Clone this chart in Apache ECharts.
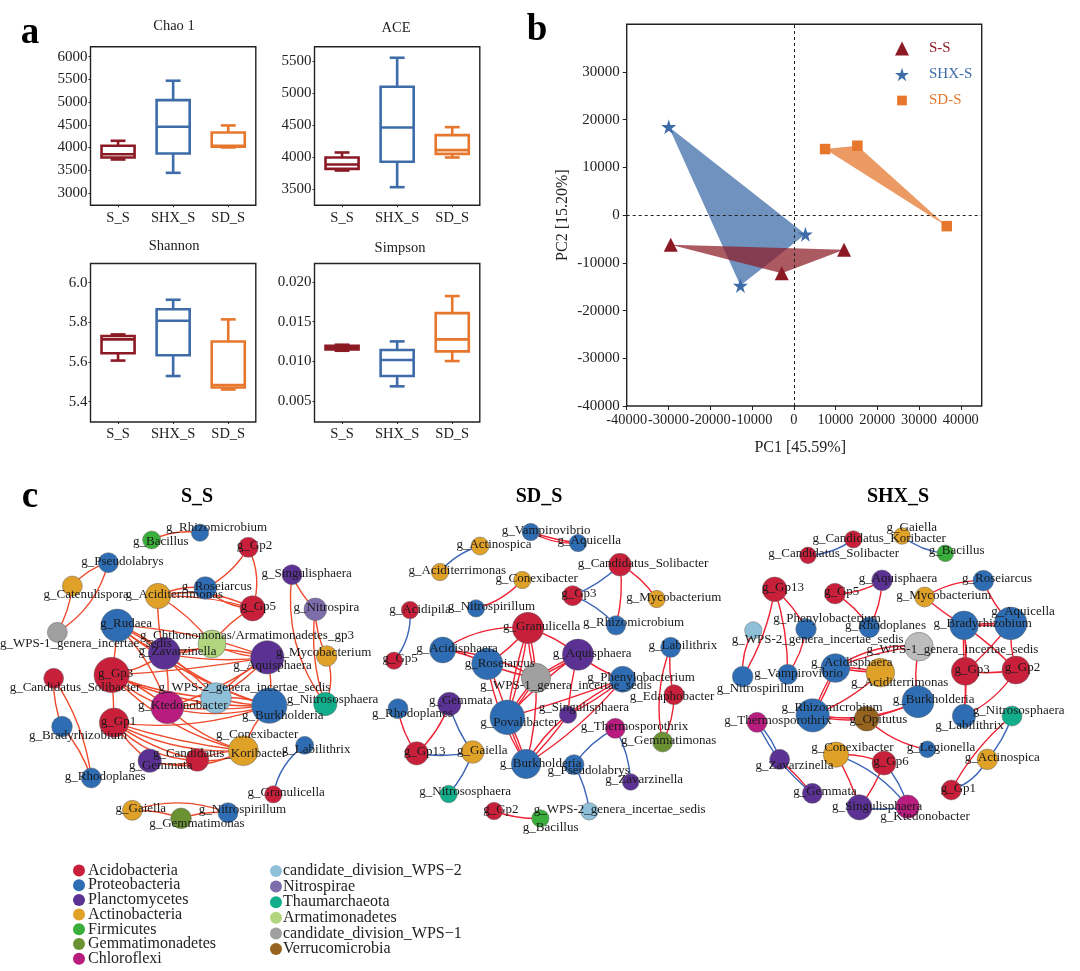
<!DOCTYPE html>
<html><head><meta charset="utf-8"><style>html,body{margin:0;padding:0;background:#fff}#c{width:1080px;height:971px}</style>
<script src="https://cdn.jsdelivr.net/npm/echarts@6/dist/echarts.min.js"></script></head><body><div id="c"></div>
<script>
const groups = ['S_S','SHX_S','SD_S'];
// [min, q1, median, q3, max] per group
const chaoBox = [[3735,3780,3850,4037,4147],[3441,3868,4456,5044,5470],[4000,4015,4037,4331,4485]];
const aceBox = [[3787,3813,3880,3991,4069],[3526,3923,4461,5098,5552],[3991,4048,4106,4341,4466]];
const shannonBox = [[5.607,5.644,5.714,5.731,5.739],[5.529,5.634,5.808,5.866,5.914],[5.461,5.471,5.484,5.703,5.815]];
const simpsonBox = [[0.01134,0.01151,0.01172,0.01197,0.0121],[0.00685,0.00815,0.01017,0.01143,0.01252],[0.01004,0.01126,0.01277,0.01609,0.01824]];
const pcoaS = [[-29450,-6220],[-2870,-12170],[12050,-7270]];
const pcoaSHX = [[-29930,18530],[-12770,-14755],[2790,-3990]];
const pcoaSD = [[7500,13850],[15240,14550],[36630,-2310]];
const phylaLeft = ['Acidobacteria','Proteobacteria','Planctomycetes','Actinobacteria','Firmicutes','Gemmatimonadetes','Chloroflexi'];
const phylaRight = ['candidate_division_WPS−2','Nitrospirae','Thaumarchaeota','Armatimonadetes','candidate_division_WPS−1','Verrucomicrobia'];
const A='Acidobacteria',P='Proteobacteria',L='Planctomycetes',C='Actinobacteria',F='Firmicutes',G='Gemmatimonadetes',H='Chloroflexi',W2='candidate_division_WPS−2',N='Nitrospirae',T='Thaumarchaeota',R='Armatimonadetes',W1='candidate_division_WPS−1',V='Verrucomicrobia';
// network nodes: [genus, phylum, x, y, weight, label start, label end, label y] in panel units
const ssNodes = [
['Rhizomicrobium',P,600,158,52,500,800,142],['Bacillus',F,455,180,54,400,565,186],['Gp2',A,745,202,60,712,815,198],['Pseudolabrys',P,325,248,60,245,490,244],
['Singulisphaera',L,876,284,60,785,1055,280],['Catenulispora',C,217,318,60,132,385,345],['Aciditerrimonas',C,474,348,76,378,668,345],['Roseiarcus',P,616,324,68,545,755,320],
['Gp5',A,758,385,76,722,828,380],['Nitrospira',N,946,388,68,880,1078,384],['WPS-1_genera_incertae_sedis',W1,172,457,60,0,515,490],['Rudaea',P,352,436,98,300,456,432],
['Chthonomonas/Armatimonadetes_gp3',R,636,492,84,420,1062,466],['Zavarzinella',L,493,520,96,415,650,516],['Aquisphaera',L,802,532,100,700,935,557],['Mycobacterium',C,980,528,62,830,1112,518],
['Gp3',A,335,585,106,296,398,582],['Candidatus_Solibacter',A,161,595,60,28,422,624],['WPS-2_genera_incertae_sedis',W2,648,654,92,475,992,622],['Ktedonobacter',H,502,682,98,415,682,676],
['Burkholderia',P,808,677,106,727,970,706],['Nitrososphaera',T,976,672,70,860,1135,660],['Gp1',A,342,728,88,303,408,726],['Bradyrhizobium',P,186,740,62,88,380,766],
['Conexibacter',C,730,812,90,648,895,765],['Candidatus_Koribacter',A,592,840,68,458,860,822],['Labilithrix',P,914,796,54,847,1050,810],['Gemmata',L,449,842,70,387,577,857],
['Rhodoplanes',P,274,894,60,195,436,890],['Granulicella',A,820,943,52,742,975,938],['Gaiella',C,397,991,60,348,497,986],['Nitrospirillum',P,684,998,60,597,858,990],['Gemmatimonas',G,543,1015,62,448,733,1032]];
const sdNodes = [
['Vampirovibrio',P,482,156,52,392,665,153],['Aquicella',P,624,189,52,562,754,182],['Actinospica',C,330,198,54,258,486,193],['Candidatus_Solibacter',A,750,254,68,620,1018,250],
['Aciditerrimonas',C,210,276,52,114,410,272],['Conexibacter',C,457,300,52,376,624,296],['Gp3',A,608,347,60,575,678,342],['Mycobacterium',C,860,357,52,768,1055,352],
['Acidipila',A,120,390,52,60,240,388],['Nitrospirillum',P,318,385,52,232,496,380],['Gp5',A,72,542,52,38,143,535],['Granulicella',A,474,444,94,398,632,440],
['Rhizomicrobium',P,738,436,58,638,944,428],['Acidisphaera',P,218,510,78,137,385,507],['Roseiarcus',P,352,552,94,283,495,552],['Aquisphaera',L,624,524,94,548,785,520],
['Labilithrix',P,902,502,60,835,1042,497],['WPS-1_genera_incertae_sedis',W1,498,594,88,328,848,618],['Phenylobacterium',P,758,598,78,650,976,593],['Edaphobacter',A,912,644,60,778,1034,650],
['Gemmata',L,238,672,70,176,368,662],['Rhodoplanes',P,84,686,60,5,250,702],['Povalibacter',P,412,712,104,330,566,728],['Singulisphaera',L,594,704,52,505,779,684],
['Thermosporothrix',H,736,745,60,632,955,739],['Gemmatimonas',G,878,786,60,752,1040,781],['Gp13',A,140,820,70,102,226,814],['Gaiella',C,308,816,68,262,412,812],
['Burkholderia',P,468,852,88,388,636,850],['Pseudolabrys',P,612,854,60,532,780,873],['Zavarzinella',L,782,906,50,705,940,900],['Nitrososphaera',T,236,942,52,147,424,936],
['Gp2',A,372,993,52,340,445,988],['WPS-2_genera_incertae_sedis',W2,658,994,52,488,1010,990],['Bacillus',F,511,1015,52,458,626,1042]];
const shxNodes = [
['Gaiella',C,546,168,50,498,653,144],['Candidatus_Koribacter',A,400,178,52,272,683,176],['Bacillus',F,676,220,50,625,795,212],['Candidatus_Solibacter',A,264,226,50,140,542,220],
['Aquisphaera',L,486,301,62,414,654,296],['Roseiarcus',P,790,302,62,724,938,297],['Gp13',A,164,328,74,128,250,322],['Gp5',A,345,341,62,313,417,336],
['Mycobacterium',C,614,351,60,526,817,346],['Aquicella',P,872,430,98,812,1006,394],['Phenylobacterium',P,258,447,62,157,486,415],['Rhodoplanes',P,448,442,62,373,620,438],
['Bradyrhizobium',P,732,436,86,638,938,432],['WPS-2_genera_incertae_sedis',W2,100,451,52,30,556,478],['WPS-1_genera_incertae_sedis','WPS1light',597,500,86,433,962,510],['Vampirovibrio',P,203,583,60,97,375,582],
['Acidisphaera',P,346,564,86,270,520,549],['Aciditerrimonas',C,481,578,86,390,688,608],['Gp3',A,736,574,84,703,810,568],['Gp2',A,888,570,84,855,960,564],
['Nitrospirillum',P,68,590,62,-10,252,626],['Burkholderia',P,594,665,96,516,766,659],['Rhizomicrobium',P,278,706,100,182,490,683],['Labilithrix',P,732,708,70,644,853,738],
['Nitrososphaera',T,876,708,60,755,1037,692],['Opitutus',V,440,716,74,388,562,719],['Thermosporothrix',H,111,727,60,10,338,722],['Conexibacter',C,348,824,76,272,522,802],
['Legionella',P,622,808,50,558,768,802],['Gp6',A,492,849,72,458,568,845],['Actinospica',C,802,838,62,732,962,834],['Zavarzinella',L,179,838,60,105,342,858],
['Gp1',A,694,930,60,663,767,926],['Gemmata',L,277,940,60,218,412,936],['Singulisphaera',L,418,982,76,333,610,979],['Ktedonobacter',H,563,980,70,478,752,1010]];
// network links: [source, target, bend], then correlation sign lists
const W1n='WPS-1_genera_incertae_sedis',W2n='WPS-2_genera_incertae_sedis',CH='Chthonomonas/Armatimonadetes_gp3';
const ssPositive = [
['Bacillus','Rhizomicrobium',.15],['Gp2','Roseiarcus',.15],['Gp2','Gp5',.2],['Pseudolabrys','Catenulispora',-.15],['Pseudolabrys',W1n,.2],['Catenulispora',W1n,.1],
['Singulisphaera','Nitrospira',-.1],['Singulisphaera','Nitrososphaera',-.2],['Nitrospira','Mycobacterium',-.12],['Nitrospira','Nitrososphaera',-.12],['Mycobacterium','Nitrososphaera',.2],
['Aciditerrimonas','Roseiarcus',.15],['Aciditerrimonas','Gp5',.18],['Aciditerrimonas','Gp5',.08],['Roseiarcus','Gp5',-.2],['Aciditerrimonas',CH,.1],['Aciditerrimonas','Zavarzinella',-.08],['Gp5',CH,-.12],
['Rudaea','Gp3',.03],['Rudaea','Zavarzinella',.12],['Rudaea','Zavarzinella',-.1],['Rudaea',W2n,.1],['Rudaea','Ktedonobacter',.12],['Rudaea','Burkholderia',-.1],['Rudaea','Aquisphaera',.08],
[CH,'Aquisphaera',-.12],[CH,'Zavarzinella',.12],['Zavarzinella','Aquisphaera',.12],['Zavarzinella','Aquisphaera',-.08],['Zavarzinella','Gp3',.12],['Zavarzinella',W2n,-.12],['Zavarzinella','Ktedonobacter',.08],['Zavarzinella','Burkholderia',-.1],
['Gp3','Gp1',.02],['Gp3',W2n,-.08],['Gp3','Ktedonobacter',.1],['Gp3','Ktedonobacter',-.1],['Gp3','Burkholderia',-.12],['Gp3','Conexibacter',-.15],['Gp3','Aquisphaera',-.03],
['Aquisphaera',W2n,.08],['Aquisphaera',W2n,-.08],['Aquisphaera','Ktedonobacter',.08],['Aquisphaera','Burkholderia',.1],[W2n,'Ktedonobacter',.08],[W2n,'Burkholderia',.12],[W2n,'Burkholderia',-.06],
['Ktedonobacter','Burkholderia',-.14],['Ktedonobacter','Burkholderia',-.05],['Ktedonobacter','Conexibacter',-.12],['Burkholderia','Conexibacter',-.12],
['Gp1','Conexibacter',-.05],['Gp1','Conexibacter',-.14],['Gp1','Candidatus_Koribacter',-.1],['Gp1','Candidatus_Koribacter',-.22],['Gp1','Gemmata',-.1],['Gp1','Burkholderia',-.12],
['Gemmata','Candidatus_Koribacter',-.18],['Gemmata','Conexibacter',-.2],['Candidatus_Koribacter','Conexibacter',.1],['Candidatus_Koribacter','Conexibacter',-.18],
['Candidatus_Solibacter','Bradyrhizobium',-.1],['Candidatus_Solibacter','Rhodoplanes',.12],['Bradyrhizobium','Rhodoplanes',.1],
['Gaiella','Nitrospirillum',.18],['Gaiella','Gemmatimonas',.1],['Gemmatimonas','Nitrospirillum',.1]];
const ssNegative = [['Labilithrix','Granulicella',-.2]];
const sdPositive = [
['Vampirovibrio','Aquicella',-.15],['Vampirovibrio','Aquicella',-.05],['Candidatus_Solibacter','Mycobacterium',.12],['Candidatus_Solibacter','Rhizomicrobium',.1],['Nitrospirillum','Conexibacter',-.15],
['Acidisphaera','Granulicella',.18],['Roseiarcus','Granulicella',-.08],['Granulicella',W1n,.05],['Granulicella',W1n,-.08],['Granulicella','Aquisphaera',.1],['Granulicella','Povalibacter',.05],['Granulicella','Povalibacter',-.05],
['Acidisphaera',W1n,.12],['Acidisphaera','Roseiarcus',.1],['Roseiarcus',W1n,-.05],['Roseiarcus','Povalibacter',.06],['Roseiarcus','Burkholderia',-.1],
['Aquisphaera',W1n,.05],['Aquisphaera',W1n,-.05],['Aquisphaera','Phenylobacterium',-.08],['Aquisphaera','Povalibacter',-.06],['Aquisphaera','Singulisphaera',-.05],
[W1n,'Povalibacter',.05],[W1n,'Povalibacter',-.05],[W1n,'Burkholderia',.08],['Phenylobacterium','Povalibacter',.02],['Phenylobacterium','Singulisphaera',.06],['Phenylobacterium','Singulisphaera',-.06],['Phenylobacterium','Burkholderia',.08],
['Povalibacter','Burkholderia',.05],['Povalibacter','Burkholderia',-.05],['Singulisphaera','Burkholderia',.05],['Singulisphaera','Burkholderia',-.1],
['Labilithrix','Edaphobacter',-.1],['Labilithrix','Gemmatimonas',-.15],['Edaphobacter','Gemmatimonas',.12],['Rhodoplanes','Gp13',-.12],['Gemmata','Gp13',.12],['Gp2','Bacillus',-.1]];
const sdNegative = [
['Aciditerrimonas','Actinospica',.15],['Candidatus_Solibacter','Gp3',.1],['Gp3','Rhizomicrobium',.12],['Acidipila','Gp5',.2],['Gemmata','Gaiella',-.1],['Gp13','Gaiella',-.1],['Gaiella','Nitrososphaera',.1],
['Thermosporothrix','Pseudolabrys',-.12],['Thermosporothrix','Zavarzinella',.12],['Pseudolabrys',W2n,.1]];
const shxPositive = [
['Gp5','Aquisphaera',-.15],['Aquisphaera','Rhodoplanes',.12],['Gp5','Rhodoplanes',.12],['Mycobacterium','Roseiarcus',.15],['Roseiarcus','Aquicella',-.1],['Mycobacterium','Bradyrhizobium',-.05],
['Bradyrhizobium','Aquicella',.03],['Bradyrhizobium','Aquicella',-.05],['Bradyrhizobium','Gp3',.05],['Bradyrhizobium','Gp3',-.05],['Bradyrhizobium','Gp2',.05],['Bradyrhizobium','Labilithrix',.05],
['Aquicella','Gp3',.05],['Aquicella','Gp2',-.08],['Gp3','Gp2',-.08],['Gp3','Labilithrix',.03],['Gp2','Labilithrix',.15],
['Gp13','Phenylobacterium',.1],['Gp13','Vampirovibrio',.08],['Gp13','Nitrospirillum',.1],['Phenylobacterium','Vampirovibrio',.12],[W2n,'Nitrospirillum',-.15],
[W1n,'Acidisphaera',-.18],[W1n,'Acidisphaera',-.08],[W1n,'Burkholderia',-.1],['Acidisphaera','Aciditerrimonas',.08],['Acidisphaera','Aciditerrimonas',-.03],['Acidisphaera','Rhizomicrobium',.05],['Acidisphaera','Rhizomicrobium',-.05],
['Aciditerrimonas','Rhizomicrobium',.1],['Rhizomicrobium','Opitutus',-.1],['Rhizomicrobium','Opitutus',-.03],['Opitutus','Burkholderia',-.05],['Rhizomicrobium','Burkholderia',-.15],['Opitutus','Legionella',-.15],
['Zavarzinella','Gemmata',.03],['Conexibacter','Gp6',.12],['Conexibacter','Singulisphaera',.06],['Gp6','Singulisphaera',.08],['Nitrososphaera','Gp1',-.1]];
const shxNegative = [
['Candidatus_Solibacter','Candidatus_Koribacter',-.15],['Gaiella','Bacillus',-.15],['Thermosporothrix','Zavarzinella',.12],['Thermosporothrix','Gemmata',-.12],['Conexibacter','Ktedonobacter',.15],['Gp6','Ktedonobacter',.12],
['Singulisphaera','Ktedonobacter',-.08],['Nitrososphaera','Actinospica',.1],['Actinospica','Gp1',.2]];

const serif = 'Liberation Serif';
const boxColors = ['#8B1A25','#3E6CA8','#E6772D'];
const phylumColors = {[A]:'#C8203A',[P]:'#2E6DB4',[L]:'#5B3293',[C]:'#DFA128',[F]:'#3AAE3A',[G]:'#6B9232',[H]:'#B71C7E',[W2]:'#8FC0DA',[N]:'#7E6DAB',[T]:'#12AE8C',[R]:'#B2D67F',[W1]:'#A0A0A0',[V]:'#96641E',WPS1light:'#BDBDBD'};
const starPath = 'path://M50 0 L61 35 L98 35 L68 57 L79 91 L50 70 L21 91 L32 57 L2 35 L39 35 Z';

const boxPanels = [
 {data:chaoBox,title:'Chao 1',tx:174,ty:26,left:90.5,top:46.7,min:2728,max:6220,ticks:[3000,3500,4000,4500,5000,5500,6000]},
 {data:aceBox,title:'ACE',tx:396,ty:28,left:314.5,top:46.7,min:3244,max:5725,ticks:[3500,4000,4500,5000,5500]},
 {data:shannonBox,title:'Shannon',tx:174,ty:246,left:90.5,top:263.5,min:5.297,max:6.097,ticks:[5.4,5.6,5.8,6.0],fmt:v=>v.toFixed(1)},
 {data:simpsonBox,title:'Simpson',tx:400,ty:248,left:314.5,top:263.5,min:0.00235,max:0.02235,ticks:[0.005,0.01,0.015,0.02],fmt:v=>v.toFixed(3)}];

const grids=[],xAxes=[],yAxes=[],series=[];
const titles=[];
const addTitle=(text,x,y,size,bold)=>titles.push({text,left:x,top:y,textAlign:'center',textVerticalAlign:'middle',padding:0,textStyle:{fontFamily:serif,fontSize:size,fontWeight:bold?'bold':'normal',color:bold?'#000':'#222'}});
addTitle('a',30,33,37,true);addTitle('b',537,30,37,true);addTitle('c',30,497,37,true);

boxPanels.forEach((p,i)=>{
 grids.push({left:p.left,top:p.top,width:165.3,height:158.5,show:true,borderColor:'#222',borderWidth:1.4,backgroundColor:'transparent'});
 xAxes.push({type:'category',gridIndex:i,data:groups,axisLine:{show:false},axisTick:{show:true,alignWithLabel:true,length:2,lineStyle:{color:'#222'}},axisLabel:{margin:5,fontFamily:serif,fontSize:14.5,color:'#222',interval:0}});
 yAxes.push({type:'value',gridIndex:i,min:p.min,max:p.max,splitLine:{show:false},axisLine:{show:false},
   axisTick:{show:true,length:2,customValues:p.ticks,lineStyle:{color:'#222'}},
   axisLabel:{margin:3,customValues:p.ticks,fontFamily:serif,fontSize:15,color:'#222',formatter:p.fmt||(v=>String(v))}});
 addTitle(p.title,p.tx,p.ty,14.5,false);
 series.push({type:'custom',xAxisIndex:i,yAxisIndex:i,silent:true,
  data:p.data.map((b,k)=>[k,...b]),encode:{x:0,y:[1,2,3,4,5]},
  renderItem:(params,api)=>{
   const k=api.value(0),color=boxColors[k],band=api.size([1,0])[0];
   const pt=d=>api.coord([k,api.value(d)]);
   const cx=pt(1)[0],w=band*0.6,cap=band*0.27;
   const y=[1,2,3,4,5].map(d=>pt(d)[1]);
   const st={stroke:color,fill:'none',lineWidth:2.6};
   const line=(x1,y1,x2,y2)=>({type:'line',shape:{x1,y1,x2,y2},style:st});
   return {type:'group',children:[
    line(cx,y[0],cx,y[1]),line(cx,y[3],cx,y[4]),
    line(cx-cap/2,y[0],cx+cap/2,y[0]),line(cx-cap/2,y[4],cx+cap/2,y[4]),
    {type:'rect',shape:{x:cx-w/2,y:y[3],width:w,height:y[1]-y[3]},style:st},
    line(cx-w/2,y[2],cx+w/2,y[2])]};
  }});
});

// PCoA panel
const pg=4;
grids.push({left:626.7,top:24.3,width:355,height:381.7,show:true,borderColor:'#222',borderWidth:1.4,backgroundColor:'transparent'});
const xt=[-40000,-30000,-20000,-10000,0,10000,20000,30000,40000],yt=[-40000,-30000,-20000,-10000,0,10000,20000,30000];
xAxes.push({type:'value',gridIndex:pg,min:-40000,max:45000,splitLine:{show:false},axisLine:{show:false,onZero:false},name:'PC1 [45.59%]',nameLocation:'middle',nameGap:34,nameTextStyle:{fontFamily:serif,fontSize:16,color:'#222',padding:[0,8,0,0]},
 axisTick:{length:4,customValues:xt,lineStyle:{color:'#222'}},axisLabel:{margin:7,customValues:xt,showMinLabel:true,showMaxLabel:true,hideOverlap:false,fontFamily:serif,fontSize:14.4,color:'#222',formatter:v=>String(v)}});
yAxes.push({type:'value',gridIndex:pg,min:-40000,max:40000,splitLine:{show:false},axisLine:{show:false,onZero:false},name:'PC2 [15.20%]',nameLocation:'middle',nameGap:56,nameTextStyle:{fontFamily:serif,fontSize:16,color:'#222'},
 axisTick:{length:4,customValues:yt,lineStyle:{color:'#222'}},axisLabel:{margin:7,customValues:yt,showMinLabel:true,fontFamily:serif,fontSize:15,color:'#222',formatter:v=>String(v)}});
const polygon=(pts,fill)=>({type:'custom',xAxisIndex:pg,yAxisIndex:pg,silent:true,data:pts,encode:{x:0,y:1},
 renderItem:(params,api)=>{
  if(params.dataIndex!==0) return null;
  return {type:'polygon',shape:{points:pts.map(q=>api.coord(q))},style:{fill,stroke:'none'}};
 }});
series.push(polygon(pcoaSHX,'rgba(62,108,168,0.74)'),polygon(pcoaS,'rgba(139,26,37,0.72)'),polygon(pcoaSD,'rgba(230,119,45,0.74)'));
const scat=(name,data,symbol,size,color,extra)=>Object.assign({type:'scatter',name,data,symbol,symbolSize:size,xAxisIndex:pg,yAxisIndex:pg,silent:true,z:5,itemStyle:{color,opacity:1}},extra||{});
series.push(scat('S-S',pcoaS,'triangle',14,boxColors[0],{
  markLine:{silent:true,symbol:'none',label:{show:false},animation:false,lineStyle:{color:'#222',type:[3,3],width:1},data:[{xAxis:0},{yAxis:0}]}}),
 scat('SHX-S',pcoaSHX,starPath,15,boxColors[1]),scat('SD-S',pcoaSD,'rect',10.5,boxColors[2]));

// networks
const allPhyla=[...phylaLeft,...phylaRight,'WPS1light'];
const cats=allPhyla.map(n=>({name:n,itemStyle:{color:phylumColors[n]}}));
const netPanels=[
 {name:'S_S',tx:197,left:0,w:380,nodes:ssNodes,pos:ssPositive,neg:ssNegative,red:'#EE4A2C'},
 {name:'SD_S',tx:539,left:370,w:360,nodes:sdNodes,pos:sdPositive,neg:sdNegative,red:'#EE2233'},
 {name:'SHX_S',tx:898,left:720,w:360,nodes:shxNodes,pos:shxPositive,neg:shxNegative,red:'#EE2233'}];
netPanels.forEach((p,i)=>{
 const g=pg+1+i;
 addTitle(p.name,p.tx,497,20,true);
 grids.push({left:p.left,top:480,width:p.w,height:360,show:false});
 xAxes.push({type:'value',gridIndex:g,show:false,min:0,max:p.w*3,splitLine:{show:false}});
 yAxes.push({type:'value',gridIndex:g,show:false,min:0,max:1080,inverse:true,splitLine:{show:false}});
 const mk=(color)=>l=>({source:l[0],target:l[1],lineStyle:{color,width:1.4,curveness:l[2],opacity:1}});
 series.push({type:'graph',coordinateSystem:'cartesian2d',xAxisIndex:g,yAxisIndex:g,silent:true,animation:false,z:3,
  categories:cats,edgeSymbol:['none','none'],
  itemStyle:{borderColor:'#666',borderWidth:0.5,opacity:1},
  label:{show:true,position:'inside',fontFamily:serif,fontSize:13,color:'#1a1a1a'},
  data:p.nodes.map(n=>({name:n[0],category:n[1],value:[n[2],n[3]],symbolSize:n[4]/3,
    label:{formatter:'g_'+n[0],offset:[((n[5]+n[6])/2-n[2])/3,(n[7]-n[3])/3]}})),
  links:[...p.pos.map(mk(p.red)),...p.neg.map(mk('#3A64B8'))]});
});

const smallSquare='path://M-22 -22 L-22 -22 M0 0 H100 V100 H0 Z M122 122 L122 122';
const chart=echarts.init(document.getElementById('c'),null,{renderer:'canvas'});
chart.setOption({animation:false,backgroundColor:'#fff',title:titles,grid:grids,xAxis:xAxes,yAxis:yAxes,series,
 legend:[
  {left:890,top:36,height:200,orient:'vertical',selectedMode:false,itemWidth:14,itemHeight:14,itemGap:11,textStyle:{fontFamily:serif,fontSize:15,padding:[0,0,0,15]},
   data:[{name:'S-S',textStyle:{color:boxColors[0]}},{name:'SHX-S',textStyle:{color:boxColors[1]}},{name:'SD-S',icon:smallSquare,textStyle:{color:boxColors[2]}}]},
  {left:68,top:857.5,height:200,orient:'vertical',selectedMode:false,icon:'circle',itemStyle:{borderWidth:0},itemWidth:12,itemHeight:12,itemGap:-1.3,textStyle:{fontFamily:serif,fontSize:16,color:'#222',padding:[0,0,0,-2]},data:phylaLeft},
  {left:265,top:858,height:200,orient:'vertical',selectedMode:false,icon:'circle',itemStyle:{borderWidth:0},itemWidth:12,itemHeight:12,itemGap:-0.4,textStyle:{fontFamily:serif,fontSize:16,color:'#222',padding:[0,0,0,-4]},data:phylaRight}
 ]});
</script></body></html>
